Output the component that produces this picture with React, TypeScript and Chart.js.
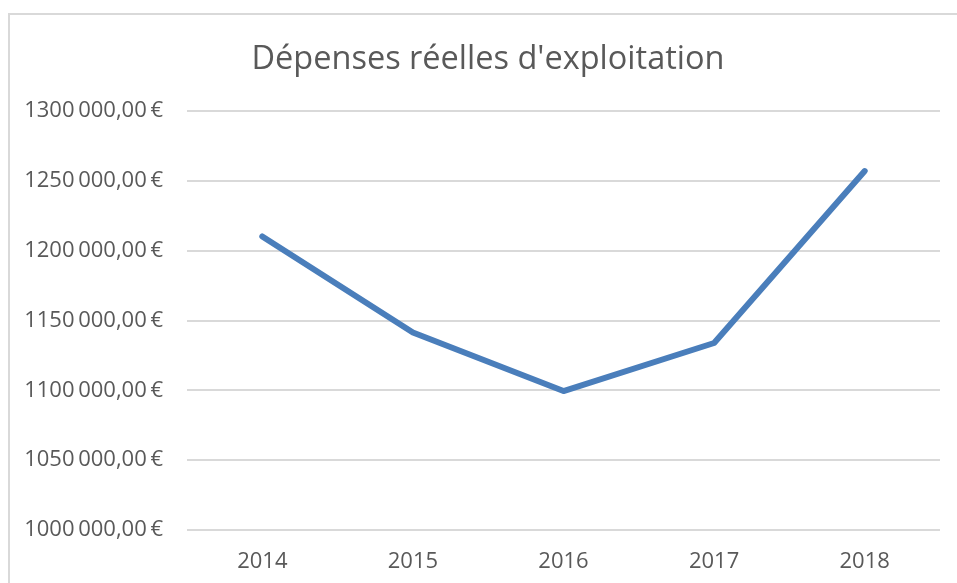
import React, { useEffect, useRef } from "react";
import { Chart, registerables } from "chart.js";

Chart.register(...registerables);

const years = ["2014", "2015", "2016", "2017", "2018"];
const depenses = [1210200, 1141400, 1099500, 1133900, 1257000];
const yMin = 1000000;
const yMax = 1300000;
const yStep = 50000;
const titleText = "Dépenses réelles d'exploitation";

function formatEuro(v: number): string {
  const thousands = Math.floor(v / 1000);
  const rest = String(Math.round(v % 1000)).padStart(3, "0");
  return `${thousands}\u2009${rest},00\u2009€`;
}

export default function App() {
  const ref = useRef<HTMLCanvasElement | null>(null);
  useEffect(() => {
    if (!ref.current) return;
    const chart = new Chart(ref.current, {
      type: "line",
      data: {
        labels: years,
        datasets: [
          {
            data: depenses,
            yAxisID: "y",
            borderColor: "#4a7ebb",
            backgroundColor: "#4a7ebb",
            borderWidth: 6,
            borderCapStyle: "round",
            borderJoinStyle: "round",
            pointRadius: 0,
            tension: 0,
          },
        ],
      },
      options: {
        animation: false,
        responsive: false,
        layout: { padding: { left: 10, right: 29, top: 0, bottom: 0 } },
        plugins: {
          legend: { display: false },
          tooltip: { enabled: false },
          title: {
            display: true,
            text: titleText,
            color: "#595959",
            font: { family: "Open Sans", size: 32.5, weight: "normal" },
            padding: { top: 25.5, bottom: 31.5 },
          },
        },
        scales: {
          x: {
            offset: true,
            grid: { display: false, drawTicks: false },
            border: { display: false },
            ticks: {
              color: "#595959",
              font: { family: "Open Sans", size: 22 },
              padding: 19,
            },
            afterFit: (s: any) => {
              s.height = 55;
            },
          },
          y: {
            position: "left",
            min: yMin,
            max: yMax,
            grid: { color: "#d9d9d9", lineWidth: 2, drawTicks: false },
            border: { display: false },
            ticks: {
              stepSize: yStep,
              color: "#595959",
              font: { family: "Open Sans", size: 22 },
              padding: 24,
              callback: (v: any) => formatEuro(Number(v)),
            },
            afterFit: (s: any) => {
              s.width = 167;
            },
          },
          spacer: {
            type: "linear",
            position: "right",
            display: true,
            grid: { display: false, drawTicks: false },
            border: { display: false },
            ticks: { display: false },
            afterFit: (s: any) => {
              s.width = 16;
            },
          },
        },
      },
    });
    return () => chart.destroy();
  }, []);
  return (
    <div
      style={{
        position: "fixed",
        left: 8,
        top: 13,
        width: 960,
        height: 580,
        borderLeft: "2px solid #d9d9d9",
        borderTop: "2px solid #d9d9d9",
        background: "#fff",
        overflow: "hidden",
      }}
    >
      <canvas ref={ref} width={975} height={570} style={{ display: "block" }} />
    </div>
  );
}
